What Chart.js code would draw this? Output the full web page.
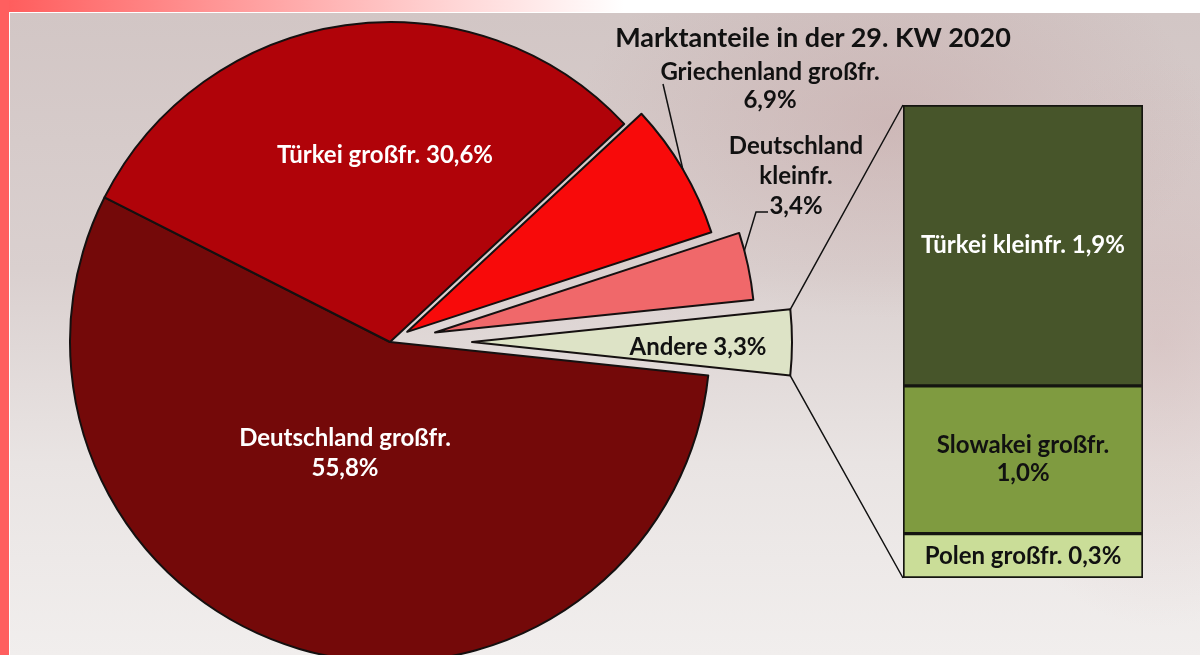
<!DOCTYPE html>
<html lang="de">
<head>
<meta charset="utf-8">
<title>Marktanteile in der 29. KW 2020</title>
<script src="https://cdn.jsdelivr.net/npm/chart.js@4/dist/chart.umd.min.js"></script>
<style>
  html, body { margin: 0; padding: 0; }
  body { width: 1200px; height: 655px; overflow: hidden; position: relative; background: #fff; }
  #topbar { position: absolute; left: 0; top: 0; width: 1200px; height: 12px;
    background: linear-gradient(to right, #ff5b5b 0%, #ff9c9c 20%, #ffd6d6 38%, #fff 52%); }
  #leftbar { position: absolute; left: 0; top: 0; width: 9px; height: 655px; background: #ff5f5f; }
  #photo { position: absolute; left: 10px; top: 13px; right: 0; bottom: 0;
    background:
      radial-gradient(ellipse 420px 260px at 880px 110px, rgba(190,150,150,0.35), rgba(190,150,150,0) 75%),
      radial-gradient(ellipse 260px 380px at 1150px 330px, rgba(200,160,160,0.3), rgba(200,160,160,0) 75%),
      linear-gradient(to bottom, #d2c6c5 0%, #dad0cf 40%, #e9e4e3 70%, #f1eeed 100%); }
  #title { position: absolute; left: 560px; width: 506px; top: 20px; text-align: center;
    font: bold 27px Lato, "Noto Sans", sans-serif; color: #111; }
  canvas { position: absolute; left: 0; top: 0; }
</style>
</head>
<body>
<div id="photo"></div>
<div id="topbar"></div>
<div id="leftbar"></div>
<canvas id="pie" width="1200" height="655"></canvas>
<canvas id="bar" width="1200" height="655"></canvas>
<div id="title">Marktanteile in der 29. KW 2020</div>

<script>
// Marktanteile (%) – Kreis
const pieLabels = ['Deutschland großfr.', 'Türkei großfr.', 'Griechenland großfr.', 'Deutschland kleinfr.', 'Andere'];
const pieValues = [55.8, 30.6, 6.9, 3.4, 3.3];

// Aufteilung "Andere" – Säule (von oben nach unten)
const andereLabels = ['Türkei kleinfr.', 'Slowakei großfr.', 'Polen großfr.'];
const andereValues = [1.9, 1.0, 0.3];

const pieColors = ['#740909', '#b00309', '#f80a0a', '#f0686a', '#dde3c6'];
const pieOffsets = [0, 0, 80, 184, 328];
const barColors = ['#47552a', '#7f9b40', '#cadd98'];

const FONT = 'bold 24px Lato, "Noto Sans", sans-serif';
const pct = v => v.toFixed(1).replace('.', ',') + '%';

// Chart.js verschiebt um offset/4, vergrößert aber auch den Radius und verengt den Winkel
// -> beides ausgleichen, damit das Stück nur herausgeschoben wird
const shift = arc => (arc.options.offset || 0) / 4;
const grow = arc => shift(arc) * (1 - Math.sin(Math.min(Math.PI, arc.circumference)));
const explode = {
  id: 'explode',
  afterDatasetsUpdate(chart) {
    chart.getDatasetMeta(0).data.forEach(arc => {
      const ro = grow(arc);
      if (!ro) return;
      const r = arc.outerRadius;
      arc.outerRadius = r - ro;
      const widen = ro / Math.PI / r / 2;
      arc.startAngle -= widen;
      arc.endAngle += widen;
    });
  }
};

// Beschriftung im Kreis
const pieText = [
  { x: 345, y: 438, mode: 'two', gap: 30, color: '#fff' },
  { x: 385, y: 155, mode: 'one', gap: 0, color: '#fff' },
  { x: 770, y: 72, mode: 'two', gap: 28, color: '#111' },
  { x: 796, y: 146, mode: 'three', gap: 30, color: '#111' },
  { x: 698, y: 347, mode: 'one', gap: 0, color: '#111' }
];

// Punkt auf dem Außenbogen; f = 0 Anfang, 1 Ende des Stücks
function arcPoint(arc, f) {
  const t = shift(arc);
  const mid = (arc.startAngle + arc.endAngle) / 2;
  const angle = mid + (f - 0.5) * arc.circumference;
  const r = arc.outerRadius + grow(arc);
  return {
    x: arc.x + Math.cos(mid) * t + Math.cos(angle) * r,
    y: arc.y + Math.sin(mid) * t + Math.sin(angle) * r
  };
}

const pieLabelPlugin = {
  id: 'pieLabels',
  afterDatasetsDraw(chart) {
    const ctx = chart.ctx;
    const arcs = chart.getDatasetMeta(0).data;
    ctx.save();
    ctx.font = FONT;
    ctx.textAlign = 'center';
    ctx.textBaseline = 'middle';
    pieText.forEach((p, i) => {
      const label = pieLabels[i], v = pct(pieValues[i]);
      let lines;
      if (p.mode === 'one') lines = [label + ' ' + v];
      else if (p.mode === 'two') lines = [label, v];
      else lines = label.split(' ').concat([v]);
      ctx.fillStyle = p.color;
      lines.forEach((l, k) => ctx.fillText(l, p.x, p.y + k * p.gap));
    });

    // Führungslinien
    ctx.strokeStyle = '#111';
    ctx.lineWidth = 1.5;
    let a = arcPoint(arcs[2], 0.5);
    ctx.beginPath();
    ctx.moveTo(663, 84);
    ctx.lineTo(a.x, a.y);
    ctx.stroke();
    a = arcPoint(arcs[3], 0.27);
    ctx.beginPath();
    ctx.moveTo(768, 212);
    ctx.lineTo(756, 212);
    ctx.lineTo(a.x, a.y);
    ctx.stroke();
    ctx.restore();
  }
};

const pie = new Chart(document.getElementById('pie'), {
  type: 'pie',
  data: {
    labels: pieLabels,
    datasets: [{
      data: pieValues,
      backgroundColor: pieColors,
      borderColor: '#151010',
      borderWidth: 2,
      borderJoinStyle: 'round',
      offset: pieOffsets,
      clip: false
    }]
  },
  options: {
    responsive: false,
    animation: false,
    events: [],
    rotation: 96,
    radius: 320,
    layout: { padding: { left: 0, right: 420, top: 29, bottom: 0 } },
    plugins: { legend: { display: false }, tooltip: { enabled: false } }
  },
  plugins: [explode, pieLabelPlugin]
});

// Säule: unterstes Segment zuerst
const barDatasets = andereLabels.map((l, i) => ({
  label: l,
  data: [andereValues[i]],
  backgroundColor: barColors[i],
  borderColor: '#151510',
  borderWidth: 2,
  borderSkipped: false,
  barPercentage: 1,
  categoryPercentage: 1
})).reverse();

const barText = [
  { mode: 'one', color: '#fff' },
  { mode: 'two', color: '#111' },
  { mode: 'one', color: '#111' }
];

const barPlugin = {
  id: 'barLabels',
  afterDatasetsDraw(chart) {
    const ctx = chart.ctx;
    const n = andereLabels.length;
    ctx.save();
    ctx.font = FONT;
    ctx.textAlign = 'center';
    ctx.textBaseline = 'middle';
    andereLabels.forEach((label, i) => {
      const el = chart.getDatasetMeta(n - 1 - i).data[0];
      const cy = (el.y + el.base) / 2;
      const v = pct(andereValues[i]);
      ctx.fillStyle = barText[i].color;
      if (barText[i].mode === 'one') ctx.fillText(label + ' ' + v, el.x, cy);
      else { ctx.fillText(label, el.x, cy - 14); ctx.fillText(v, el.x, cy + 14); }
    });

    // Verbindungslinien vom Segment "Andere" zur Säule
    const andere = pie.getDatasetMeta(0).data[4];
    const top = chart.getDatasetMeta(n - 1).data[0];
    const bottom = chart.getDatasetMeta(0).data[0];
    const p1 = arcPoint(andere, 0);
    const p2 = arcPoint(andere, 1);
    ctx.strokeStyle = '#111';
    ctx.lineWidth = 1.5;
    ctx.beginPath();
    ctx.moveTo(p1.x, p1.y);
    ctx.lineTo(top.x - top.width / 2, top.y);
    ctx.moveTo(p2.x, p2.y);
    ctx.lineTo(bottom.x - bottom.width / 2, bottom.base);
    ctx.stroke();
    ctx.restore();
  }
};

new Chart(document.getElementById('bar'), {
  type: 'bar',
  data: { labels: ['Andere'], datasets: barDatasets },
  options: {
    responsive: false,
    animation: false,
    events: [],
    layout: { padding: { left: 903, right: 57, top: 105, bottom: 77 } },
    scales: {
      x: { display: false, stacked: true },
      y: { display: false, stacked: true, min: 0, max: andereValues.reduce((s, v) => s + v, 0) }
    },
    plugins: { legend: { display: false }, tooltip: { enabled: false } }
  },
  plugins: [barPlugin]
});
</script>
</body>
</html>
